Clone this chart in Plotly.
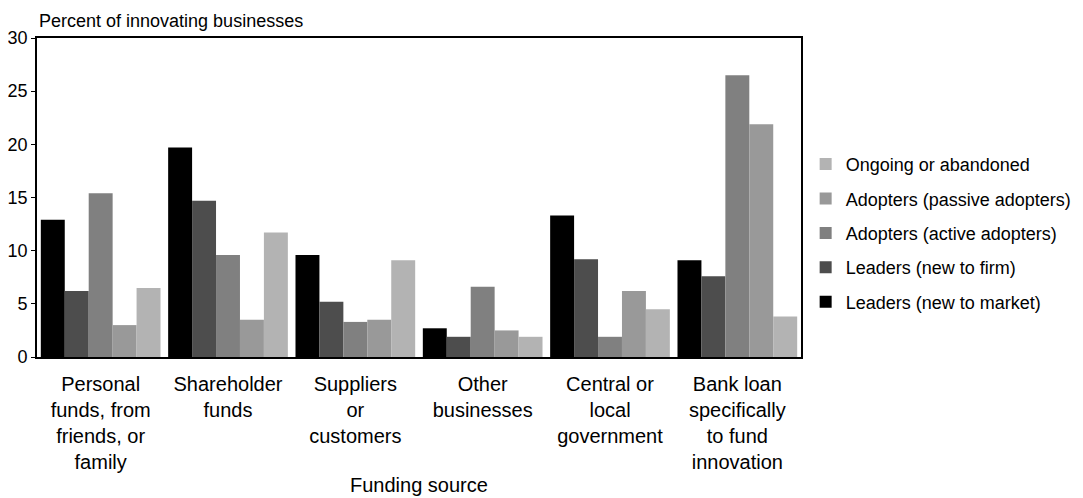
import plotly.graph_objects as go

categories = [
    "Personal<br>funds, from<br>friends, or<br>family",
    "Shareholder<br>funds",
    "Suppliers<br>or<br>customers",
    "Other<br>businesses",
    "Central or<br>local<br>government",
    "Bank loan<br>specifically<br>to fund<br>innovation",
]

series_names = [
    "Leaders (new to market)",
    "Leaders (new to firm)",
    "Adopters (active adopters)",
    "Adopters (passive adopters)",
    "Ongoing or abandoned",
]

leaders_market = [12.9, 19.7, 9.6, 2.7, 13.3, 9.1]
leaders_firm = [6.2, 14.7, 5.2, 1.9, 9.2, 7.6]
adopters_active = [15.4, 9.6, 3.3, 6.6, 1.9, 26.5]
adopters_passive = [3.0, 3.5, 3.5, 2.5, 6.2, 21.9]
ongoing = [6.5, 11.7, 9.1, 1.9, 4.5, 3.8]

values = [leaders_market, leaders_firm, adopters_active, adopters_passive, ongoing]
colors = ["#000000", "#4d4d4d", "#808080", "#999999", "#b3b3b3"]

font = "Arial, Liberation Sans, sans-serif"

fig = go.Figure()
for i, (name, vals, col) in enumerate(zip(series_names, values, colors)):
    # legend lists the series bottom-up, like the original
    fig.add_trace(go.Bar(x=categories, y=vals, name=name, marker_color=col,
                         marker_line_width=0, legendgroup=name,
                         legendrank=1000 - i))

# page body has an 8px margin, so the figure is 8px smaller than the window
fig.update_layout(
    width=1075, height=490,
    barmode="group", bargap=0.06, bargroupgap=0,
    plot_bgcolor="white", paper_bgcolor="white",
    margin=dict(l=29, r=282, t=30, b=141),
    font=dict(family=font, size=18, color="#000000"),
    legend=dict(traceorder="grouped", xref="container", x=0.742, xanchor="left",
                y=0.389, yanchor="middle", font=dict(size=18),
                tracegroupgap=8),
    showlegend=True,
)

fig.update_yaxes(range=[0, 30], dtick=5, showgrid=False, zeroline=False,
                 showline=True, linecolor="#000000", linewidth=2, mirror=True,
                 ticks="outside", ticklen=4, tickcolor="#000000",
                 tickfont=dict(size=18), automargin=False)
fig.update_xaxes(showgrid=False, showline=True, linecolor="#000000", linewidth=2,
                 mirror=True, ticks="", tickfont=dict(size=20), automargin=False,
                 ticklabelstandoff=8)

fig.add_annotation(text="Percent of innovating businesses", xref="paper", yref="paper",
                   x=0, y=1, xanchor="left", yanchor="bottom", yshift=5,
                   showarrow=False, font=dict(size=18))
fig.add_annotation(text="Funding source", xref="paper", yref="paper",
                   x=0.5, y=0, xanchor="center", yanchor="middle", yshift=-128,
                   showarrow=False, font=dict(size=20))

fig.write_html("out.html")
